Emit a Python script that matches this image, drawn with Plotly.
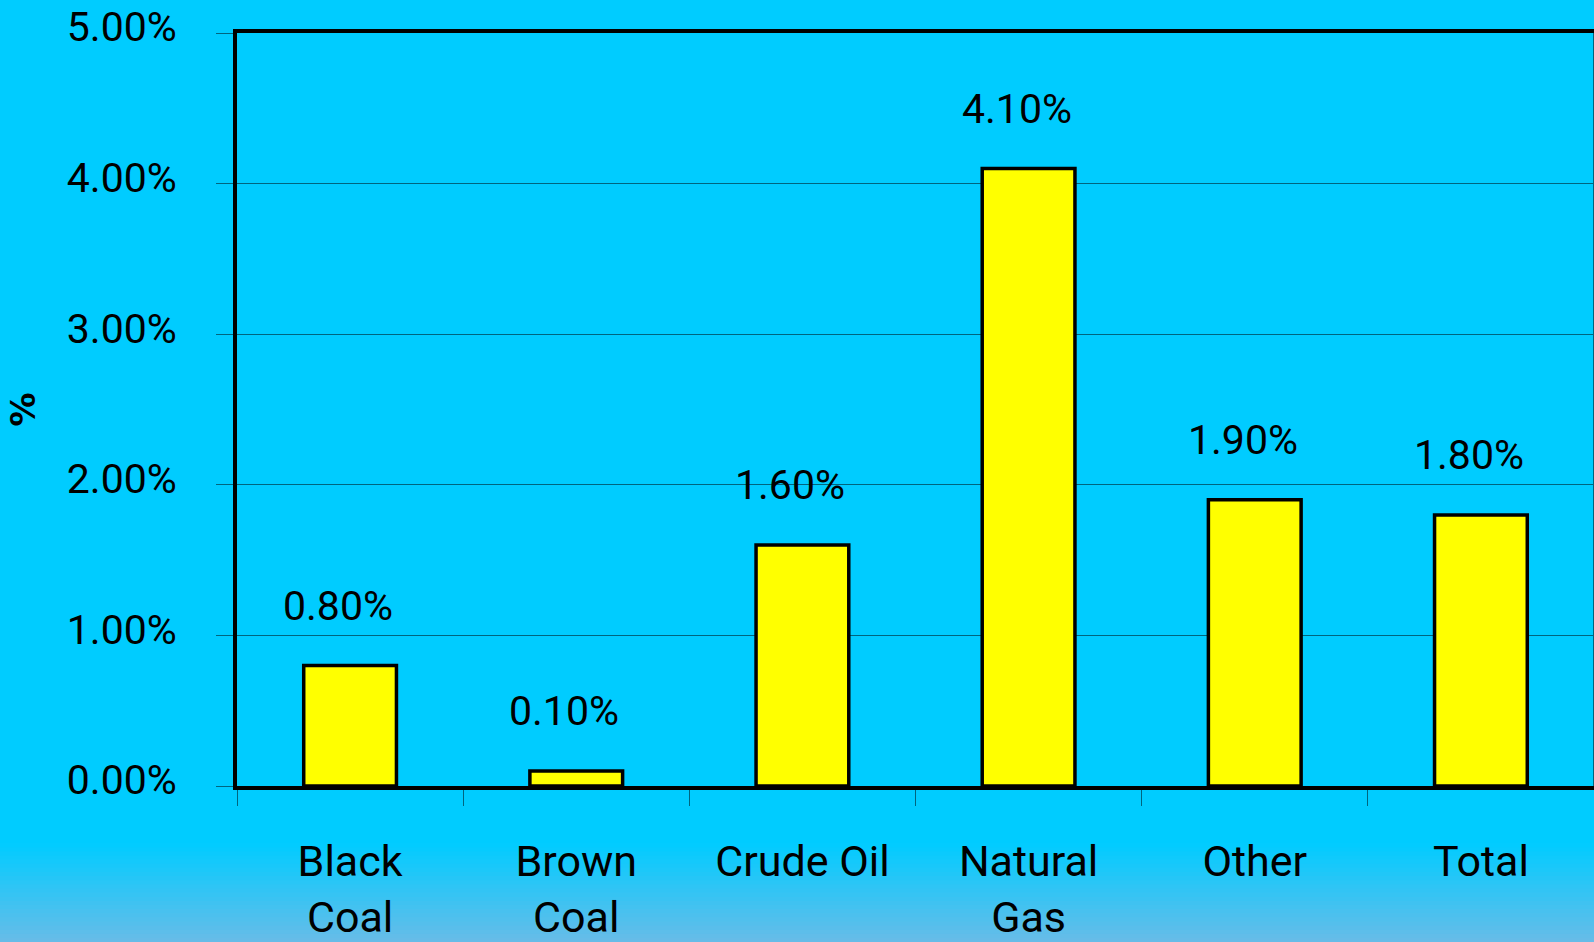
import plotly.graph_objects as go

# Growth rates by fuel type
categories = ["Black Coal", "Brown Coal", "Crude Oil", "Natural Gas", "Other", "Total"]
category_labels = ["Black<br>Coal", "Brown<br>Coal", "Crude Oil", "Natural<br>Gas", "Other", "Total"]
growth_pct = [0.80, 0.10, 1.60, 4.10, 1.90, 1.80]
y_ticks = [0, 1, 2, 3, 4, 5]

W, H = 1594, 942
M_L, M_R, M_T, M_B = 237, 0, 33, 156

FONT = "Roboto, DejaVu Sans, sans-serif"
SKY = "#00CCFF"
GRID = "#00657F"

fig = go.Figure()

fig.add_trace(go.Bar(
    x=categories,
    y=growth_pct,
    width=0.41,
    marker=dict(color="#FFFF00", line=dict(color="black", width=3.5)),
    hoverinfo="skip",
))

# value labels above each bar
for cat, v in zip(categories, growth_pct):
    fig.add_annotation(
        x=cat, y=v, xref="x", yref="y",
        text=f"{v:.2f}%", showarrow=False,
        yanchor="middle", yshift=60, xshift=-12,
        font=dict(family=FONT, size=41, color="black"),
    )

# y-axis title
fig.add_annotation(
    x=(22 - M_L) / (W - M_L - M_R), y=0.5, xref="paper", yref="paper",
    xanchor="center", yanchor="middle",
    text="%", showarrow=False, textangle=-90,
    font=dict(family="DejaVu Sans, sans-serif", size=34, color="black", weight="bold"),
)

# soft gradient band at the bottom of the page
plot_h = H - M_T - M_B
top_px, bot_px = 843, H
c0 = (0, 204, 255)
c1 = (104, 188, 232)
n = 24
shapes = []
for i in range(n):
    y0_px = top_px + (bot_px - top_px) * i / n
    y1_px = top_px + (bot_px - top_px) * (i + 1) / n
    t = (i + 0.5) / n
    col = tuple(round(a + (b - a) * t) for a, b in zip(c0, c1))
    shapes.append(dict(
        type="rect", xref="paper", yref="paper", layer="below",
        x0=-0.2, x1=1.01,
        y0=-(y0_px - (H - M_B)) / plot_h, y1=-(y1_px + 1 - (H - M_B)) / plot_h,
        fillcolor=f"rgb{col}", line=dict(width=0),
    ))
# thin right border of the plot frame
shapes.append(dict(type="line", xref="paper", yref="paper",
                   x0=1, x1=1, y0=0, y1=1, line=dict(color=GRID, width=2)))

fig.update_layout(
    width=W, height=H,
    margin=dict(l=M_L, r=M_R, t=M_T, b=M_B, pad=0),
    paper_bgcolor=SKY, plot_bgcolor=SKY,
    showlegend=False,
    shapes=shapes,
    xaxis=dict(
        type="category",
        tickvals=categories, ticktext=category_labels,
        tickson="boundaries", ticks="outside", ticklen=16, tickwidth=1, tickcolor=GRID,
        ticklabelstandoff=34,
        showline=True, linecolor="black", linewidth=4, mirror=True,
        showgrid=False,
        tickfont=dict(family=FONT, size=43, color="black"),
        fixedrange=True,
    ),
    yaxis=dict(
        range=[0, 5], tickvals=y_ticks,
        ticktext=[f"{v:.2f}%" for v in y_ticks],
        ticks="outside", ticklen=17, tickwidth=1, tickcolor=GRID,
        ticklabelstandoff=31, ticklabelshift=-6,
        showline=True, linecolor="black", linewidth=4,
        showgrid=True, gridcolor=GRID, gridwidth=1,
        zeroline=False,
        tickfont=dict(family=FONT, size=41, color="black"),
        fixedrange=True,
    ),
)

fig.write_html("out.html", config={"displayModeBar": False})
